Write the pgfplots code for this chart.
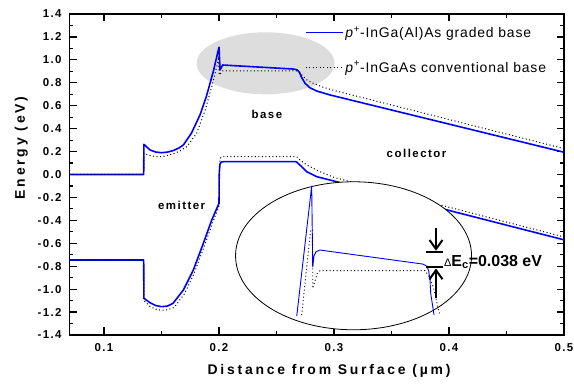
\documentclass[border=0pt]{standalone}
\usepackage{pgfplots}
\pgfplotsset{compat=1.18}
\usepackage{fontspec}
\usetikzlibrary{arrows.meta}
\setmainfont{Liberation Sans}
\newfontfamily\sps[LetterSpace=13]{Liberation Sans}
\newfontfamily\spl[LetterSpace=20]{Liberation Sans}
\newfontfamily\spt[LetterSpace=12]{Liberation Sans}
\newfontfamily\spleg[LetterSpace=6]{Liberation Sans}
\definecolor{hl}{RGB}{221,221,221}
\begin{document}
\begin{tikzpicture}
\begin{axis}[
  scale only axis, width=494.5bp, height=321bp,
  xmin=0.07, xmax=0.5, ymin=-1.4, ymax=1.4,
  xtick={0.1,0.2,0.3,0.4,0.5},
  xticklabels={0.1,0.2,0.3,0.4,0.5},
  ytick={-1.4,-1.2,-1.0,-0.8,-0.6,-0.4,-0.2,0,0.2,0.4,0.6,0.8,1.0,1.2,1.4},
  yticklabels={-1.4,-1.2,-1.0,-0.8,-0.6,-0.4,-0.2,0.0,0.2,0.4,0.6,0.8,1.0,1.2,1.4},
  minor x tick num=1, minor y tick num=1,
  tick align=inside,
  major tick length=7.5bp, minor tick length=4bp,
  every tick/.style={line width=1.2bp, black},
  axis line style={line width=1.5bp},
  tick label style={font=\spt\fontsize{11.5}{13}\selectfont\bfseries},
  xticklabel style={anchor=north, yshift=-5bp},
  yticklabel style={anchor=east, xshift=-4.5bp},
  xlabel={Distance from Surface (µm)},
  ylabel={Energy (eV)},
  label style={font=\spl\fontsize{14}{16}\selectfont\bfseries},
  x label style={at={(axis description cs:0.5248,-0.1246)}, anchor=base},
  y label style={at={(axis description cs:-0.09,0.5826)}, anchor=base, rotate=0},
  legend style={draw=none, fill=none, at={(axis description cs:0.476,0.968)},
    anchor=north west, inner sep=0pt, row sep=18.5bp,
    font=\spleg\fontsize{14}{16}\selectfont},
  legend cell align=left,
  legend image code/.code={\draw[#1] (0bp,0bp) -- (36.7bp,0bp);},
]
\fill[hl] (axis cs:0.2405,0.970) ellipse [x radius=69bp, y radius=31bp];

\addplot[blue, line width=1.6bp, line join=round] coordinates {
(0.07,0) (0.1345,0) (0.1347,0.263) (0.140,0.214) (0.145,0.196) (0.150,0.19) (0.155,0.195)
(0.160,0.208) (0.165,0.23) (0.169,0.257) (0.176,0.36) (0.1835,0.52) (0.189,0.68)
(0.195,0.897) (0.2,1.11) (0.2009,0.912) (0.2032,0.955) (0.2646,0.92) (0.268,0.913)
(0.270,0.89) (0.2715,0.853) (0.2748,0.796) (0.279,0.757) (0.285,0.728) (0.2965,0.694)
(0.5,0.194)};
\addlegendentry{\textit{p}\textsuperscript{+}-InGa(Al)As graded base}

\addplot[black, line width=1bp, dash pattern=on 1bp off 2.5bp] coordinates {
(0.07,0) (0.1345,0) (0.1347,0.185) (0.140,0.165) (0.1458,0.155) (0.152,0.158) (0.160,0.179)
(0.166,0.205) (0.172,0.243) (0.1806,0.36) (0.188,0.563) (0.1937,0.766) (0.198,0.94)
(0.1994,1.005) (0.2003,0.868) (0.2032,0.903) (0.268,0.903) (0.270,0.89) (0.272,0.868)
(0.2763,0.825) (0.282,0.795) (0.290,0.763) (0.300,0.733) (0.5,0.226)};
\addlegendentry{\textit{p}\textsuperscript{+}-InGaAs conventional base}

\addplot[blue, line width=1.6bp, line join=round, forget plot] coordinates {
(0.07,-0.746) (0.1345,-0.746) (0.1347,-1.08) (0.140,-1.118) (0.145,-1.143) (0.150,-1.153)
(0.155,-1.148) (0.160,-1.124) (0.169,-1.008) (0.1777,-0.833) (0.1864,-0.60) (0.1937,-0.397)
(0.2,-0.251) (0.2002,0.0) (0.2008,0.09) (0.202,0.108) (0.204,0.112) (0.2665,0.112)
(0.2676,0.108) (0.2719,0.068) (0.2763,0.024) (0.285,-0.019) (0.3023,-0.063) (0.5,-0.57)};

\addplot[black, line width=1bp, dash pattern=on 1bp off 2.5bp, forget plot] coordinates {
(0.07,-0.746) (0.1345,-0.746) (0.1347,-1.10) (0.140,-1.15) (0.145,-1.175) (0.150,-1.185)
(0.155,-1.18) (0.161,-1.16) (0.170,-1.04) (0.1785,-0.86) (0.187,-0.63) (0.1945,-0.42)
(0.2002,-0.27) (0.2004,0.05) (0.201,0.14) (0.2025,0.155) (0.2676,0.155) (0.270,0.13)
(0.2763,0.083) (0.288,0.024) (0.300,-0.025) (0.311,-0.054) (0.5,-0.545)};

\draw[line width=0.8bp, fill=white] (axis cs:0.317,-0.709) ellipse [x radius=118bp, y radius=74bp];

\addplot[blue, line width=0.9bp, forget plot] coordinates {
(0.2676,-1.235) (0.2806,-0.100) (0.2815,-0.810) (0.2826,-0.711) (0.2843,-0.674)
(0.2878,-0.659) (0.3771,-0.781) (0.3806,-0.798) (0.3823,-0.839) (0.3835,-0.921)
(0.3841,-1.037) (0.3870,-1.226)};

\addplot[black, line width=0.9bp, dash pattern=on 1bp off 2.5bp, forget plot] coordinates {
(0.2719,-1.226) (0.2797,-0.484) (0.2815,-0.484) (0.2815,-0.993) (0.2855,-0.862)
(0.2878,-0.839) (0.3791,-0.839) (0.382,-0.877) (0.3863,-0.979) (0.3920,-1.226)};

\draw[line width=2bp] (axis cs:0.3800,-0.674) -- (axis cs:0.3951,-0.674);
\draw[line width=2bp] (axis cs:0.3800,-0.810) -- (axis cs:0.3951,-0.810);
\draw[line width=2bp, -{Straight Barb[length=9bp,width=13bp]}] (axis cs:0.3887,-0.469) -- (axis cs:0.3887,-0.665);
\draw[line width=2bp, -{Straight Barb[length=9bp,width=13bp]}] (axis cs:0.3887,-1.078) -- (axis cs:0.3887,-0.820);
\node[anchor=base west, inner sep=0pt] at (axis cs:0.3956,-0.80)
  {{\fontsize{11}{11}\selectfont Δ}{\fontsize{16}{16}\selectfont\bfseries E\textsubscript{c}=0.038 eV}};

\node[font=\sps\fontsize{11.5}{13}\selectfont\bfseries] at (axis cs:0.2416,0.528) {base};
\node[font=\sps\fontsize{11.5}{13}\selectfont\bfseries] at (axis cs:0.3718,0.185) {collector};
\node[font=\sps\fontsize{11.5}{13}\selectfont\bfseries] at (axis cs:0.1675,-0.266) {emitter};
\end{axis}
\pgfresetboundingbox
\useasboundingbox ([xshift=-69.5bp,yshift=-50bp]current axis.south west) rectangle ([xshift=10bp,yshift=14bp]current axis.north east);
\end{tikzpicture}
\end{document}
